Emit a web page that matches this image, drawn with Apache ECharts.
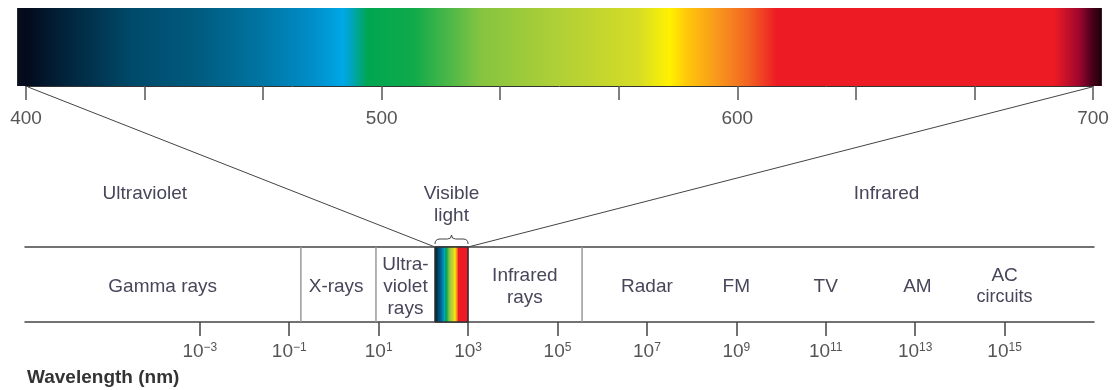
<!DOCTYPE html>
<html><head><meta charset="utf-8">
<script src="https://cdn.jsdelivr.net/npm/echarts@6/dist/echarts.min.js"></script>
<style>html,body{margin:0;padding:0;background:#fff}#c{width:1113px;height:390px}</style>
</head><body><div id="c"></div>
<script>
// ---- data ----
var nmRange = [397.5, 702.5];                 // extent of the coloured visible-spectrum bar (nm)
var nmTicks = [400, 433.33, 466.67, 500, 533.33, 566.67, 600, 633.33, 666.67, 700];
var nmLabels = [400, 500, 600, 700];
var spectrumStops = [
  [397.5, '#0a0f1e'], [400, '#040a1c'], [412, '#01263e'], [430, '#004a6a'], [449, '#005c80'],
  [466, '#0075a3'], [481, '#008fca'], [489, '#00a7e6'], [491, '#00a5c8'], [496, '#00a651'],
  [509, '#10aa4a'], [519, '#4cb848'], [528, '#86c440'], [550, '#b0d036'], [572, '#d5dc26'],
  [581, '#fff200'], [586, '#ffc60a'], [595, '#f7941d'], [603, '#f26522'], [611, '#ed1c24'],
  [689, '#ed1c24'], [696, '#a0062e'], [700, '#45001a'], [702.5, '#200008']
];
var logRange = [-6.91, 17.0];                 // exponent range of the wavelength scale
var logTicks = [-3, -1, 1, 3, 5, 7, 9, 11, 13, 15];
var visibleBand = [2.26, 3.0];                // exponents bounding the visible slot
var bandDividers = [-0.74, 0.94, 5.55];
var bandLabels = [
  { name: 'Gamma rays', at: -3.83 },
  { name: 'X-rays', at: 0.05 },
  { name: 'Ultra-\nviolet\nrays', at: 1.6 },
  { name: 'Infrared\nrays', at: 4.27 },
  { name: 'Radar', at: 7.0 },
  { name: 'FM', at: 9.0 },
  { name: 'TV', at: 11.0 },
  { name: 'AM', at: 13.05 },
  { name: 'AC\n{s|circuits}', at: 15.0 }
];
var regionLabels = [
  { name: 'Ultraviolet', at: -4.23 },
  { name: 'Visible\nlight', at: 2.63 },
  { name: 'Infrared', at: 12.36 }
];

// ---- chart ----
var FONT = '"Liberation Sans", Arial, Helvetica, sans-serif';
var TXT = '#47465a';
var chart = echarts.init(document.getElementById('c'));

function gradient() {
  var span = nmRange[1] - nmRange[0];
  return new echarts.graphic.LinearGradient(0, 0, 1, 0, spectrumStops.map(function (s) {
    return { offset: Math.min(1, Math.max(0, (s[0] - nmRange[0]) / span)), color: s[1] };
  }));
}
function supLabel(v) {
  var e = v < 0 ? '\u2212' + (-v) : '' + v;
  return '{b|10}{s|' + e + '}';
}

var option = {
  animation: false,
  backgroundColor: '#fff',
  grid: [
    { left: 26, width: 1067, top: 8, height: 78 },
    { left: 25, width: 1069, top: 247, height: 75 }
  ],
  xAxis: [
    { gridIndex: 0, type: 'value', min: 400, max: 700,
      axisLine: { show: true, lineStyle: { color: '#333', width: 1 } },
      axisTick: { show: true, customValues: nmTicks, length: 14, lineStyle: { color: '#555', width: 1.5 } },
      axisLabel: { customValues: nmLabels, fontSize: 19, color: '#555', fontFamily: FONT, margin: 23 },
      splitLine: { show: false } },
    { gridIndex: 1, type: 'value', min: logRange[0], max: logRange[1], position: 'bottom',
      axisLine: { show: true, lineStyle: { color: '#444', width: 1.5 } },
      axisTick: { show: true, customValues: logTicks, length: 14, lineStyle: { color: '#444', width: 1.5 } },
      axisLabel: { customValues: logTicks, formatter: supLabel, margin: 20,
        rich: { b: { fontSize: 19, color: '#555', fontFamily: FONT, lineHeight: 20 },
                s: { fontSize: 12, color: '#555', fontFamily: FONT, lineHeight: 12, verticalAlign: 'top' } } },
      splitLine: { show: false } },
    { gridIndex: 1, type: 'value', min: logRange[0], max: logRange[1], position: 'top',
      axisLine: { show: true, onZero: false, lineStyle: { color: '#444', width: 1.5 } },
      axisTick: { show: false }, axisLabel: { show: false }, splitLine: { show: false } }
  ],
  yAxis: [
    { gridIndex: 0, type: 'value', min: 0, max: 1, show: false },
    { gridIndex: 1, type: 'value', min: 0, max: 1, show: false }
  ],
  series: [
    { type: 'custom', xAxisIndex: 0, yAxisIndex: 0, clip: false, data: [nmRange],
      renderItem: function (p, api) {
        var a = api.coord([api.value(0), 1]), b = api.coord([api.value(1), 0]);
        return { type: 'rect', shape: { x: a[0], y: a[1], width: b[0] - a[0], height: b[1] - a[1] },
          style: { fill: gradient() } };
      } },
    { type: 'custom', xAxisIndex: 1, yAxisIndex: 1, clip: false, data: bandDividers,
      renderItem: function (p, api) {
        var a = api.coord([api.value(0), 0]), b = api.coord([api.value(0), 1]);
        return { type: 'line', shape: { x1: a[0], y1: a[1], x2: b[0], y2: b[1] },
          style: { stroke: '#9a9a9a', lineWidth: 1.5 } };
      } },
    { type: 'custom', xAxisIndex: 1, yAxisIndex: 1, clip: false, data: [visibleBand],
      renderItem: function (p, api) {
        var a = api.coord([api.value(0), 1]), b = api.coord([api.value(1), 0]);
        var x1 = a[0], x2 = b[0], m = (x1 + x2) / 2, y = a[1] - 8;
        return { type: 'group', children: [
          { type: 'rect', shape: { x: x1, y: a[1], width: x2 - x1, height: b[1] - a[1] },
            style: { fill: gradient(), stroke: '#333', lineWidth: 1 } },
          { type: 'path', shape: { pathData:
              'M' + x1 + ' ' + (y + 5) + ' Q' + x1 + ' ' + y + ' ' + (x1 + 5) + ' ' + y +
              ' L' + (m - 4) + ' ' + y + ' Q' + m + ' ' + y + ' ' + m + ' ' + (y - 4) +
              ' Q' + m + ' ' + y + ' ' + (m + 4) + ' ' + y +
              ' L' + (x2 - 5) + ' ' + y + ' Q' + x2 + ' ' + y + ' ' + x2 + ' ' + (y + 5) },
            style: { fill: null, stroke: '#444', lineWidth: 1 } }
        ] };
      } },
    { type: 'custom', xAxisIndex: 1, yAxisIndex: 1, clip: false,
      data: bandLabels.map(function (d) { return [d.at, 0.5]; }),
      renderItem: function (p, api) {
        var c = api.coord([api.value(0), api.value(1)]);
        return { type: 'text', x: c[0], y: c[1] + 2,
          style: { text: bandLabels[p.dataIndex].name, fill: TXT, fontSize: 19, fontFamily: FONT,
            align: 'center', verticalAlign: 'middle', lineHeight: 22,
            rich: { s: { fontSize: 18, fill: TXT, fontFamily: FONT, lineHeight: 22 } } } };
      } },
    { type: 'custom', xAxisIndex: 1, yAxisIndex: 1, clip: false,
      data: regionLabels.map(function (d) { return [d.at, 1]; }),
      renderItem: function (p, api) {
        var c = api.coord([api.value(0), api.value(1)]);
        return { type: 'text', x: c[0], y: c[1] - 64,
          style: { text: regionLabels[p.dataIndex].name, fill: TXT, fontSize: 19, fontFamily: FONT,
            align: 'center', verticalAlign: 'top', lineHeight: 22 } };
      } }
  ]
};
chart.setOption(option);

// connector lines from the ends of the nm scale to the visible slot
var pL0 = chart.convertToPixel({ xAxisIndex: 0, yAxisIndex: 0 }, [400, 0]);
var pR0 = chart.convertToPixel({ xAxisIndex: 0, yAxisIndex: 0 }, [700, 0]);
var pL1 = chart.convertToPixel({ xAxisIndex: 1, yAxisIndex: 1 }, [visibleBand[0], 1]);
var pR1 = chart.convertToPixel({ xAxisIndex: 1, yAxisIndex: 1 }, [visibleBand[1], 1]);
chart.setOption({
  graphic: [
    { type: 'line', shape: { x1: pL0[0] + 2, y1: pL0[1] + 1, x2: pL1[0], y2: pL1[1] },
      style: { stroke: '#444', lineWidth: 1 }, z: 10 },
    { type: 'line', shape: { x1: pR0[0] - 1, y1: pR0[1] + 1, x2: pR1[0], y2: pR1[1] },
      style: { stroke: '#444', lineWidth: 1 }, z: 10 },
    { type: 'text', left: 27, top: 368,
      style: { text: 'Wavelength (nm)', fill: '#333', fontSize: 19, fontWeight: 'bold', fontFamily: FONT }, z: 10 }
  ]
});
</script></body></html>
